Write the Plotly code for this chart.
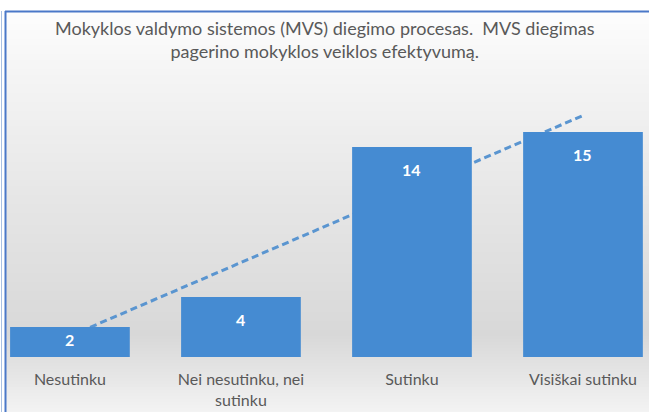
import numpy as np
import plotly.graph_objects as go

# Survey answers and counts
categories = ["Nesutinku", "Nei nesutinku, nei<br>sutinku", "Sutinku", "Visiškai sutinku"]
counts = [2, 4, 14, 15]
title_lines = ["Mokyklos valdymo sistemos (MVS) diegimo procesas.  MVS diegimas",
               "pagerino mokyklos veiklos efektyvumą."]

W, H = 649, 412
FONT = "Lato"
GREY = "#595959"
BAR = "#458bd2"
LINE = "#5a95d0"

# Linear trend through the counts (x = 1..n)
xs = np.arange(1, len(counts) + 1)
slope, intercept = np.polyfit(xs, counts, 1)
trend = slope * xs + intercept

# Axis geometry
x_range = [-0.409, 3.386]
plot_bottom_px = 357
px_per_unit = 15.0
y_range = [0, plot_bottom_px / px_per_unit]

fig = go.Figure()

# Trend line sits on the base axes so the bars (overlay axes) cover it
fig.add_trace(go.Scatter(
    x=categories, y=trend, mode="lines",
    line=dict(color=LINE, width=3, dash="7px,4px"),
    hoverinfo="skip", showlegend=False,
))

fig.add_trace(go.Bar(
    x=categories, y=counts, xaxis="x2", yaxis="y2",
    marker=dict(color=BAR, line=dict(width=0)),
    width=0.7, showlegend=False, hoverinfo="x+y",
))

# Value labels near the top of each bar (pulled up on short bars)
for cat, v in zip(categories, counts):
    drop_px = min(22, v * px_per_unit * 0.4)
    fig.add_annotation(
        x=cat, y=v - drop_px / px_per_unit, xref="x2", yref="y2",
        text=f"<b>{v}</b>", showarrow=False, yanchor="middle",
        font=dict(family=FONT, size=16, color="white"),
    )

# Two-line chart title
fig.add_annotation(
    x=325 / W, y=1, xref="paper", yref="paper", yanchor="top",
    text="<br>".join(title_lines), showarrow=False,
    font=dict(family=FONT, size=18, color=GREY),
    yshift=-15,
)


def to_paper_y(py):
    return (plot_bottom_px - py) / plot_bottom_px


def to_paper_x(px):
    return px / W


# Soft vertical background gradient inside the frame
stops_px = [12, 80, 200, 335, 362, 412]
stops_v = [253, 244, 230, 216, 225, 243]
shapes = []
step = 3
for top in range(12, H, step):
    mid = top + step / 2
    v = int(round(np.interp(mid, stops_px, stops_v)))
    shapes.append(dict(
        type="rect", xref="paper", yref="paper", layer="below",
        x0=to_paper_x(6), x1=to_paper_x(W + 2),
        y0=to_paper_y(min(top + step, H + 2)), y1=to_paper_y(top),
        fillcolor=f"rgb({v},{v},{v})", line=dict(width=0),
    ))

# Frame lines
shapes.append(dict(type="line", xref="paper", yref="paper", layer="above",
                   x0=to_paper_x(5.5), x1=to_paper_x(5.5),
                   y0=to_paper_y(11), y1=to_paper_y(H + 5),
                   line=dict(color="#4a78c8", width=2)))
shapes.append(dict(type="line", xref="paper", yref="paper", layer="above",
                   x0=to_paper_x(5), x1=to_paper_x(W + 5),
                   y0=to_paper_y(11.5), y1=to_paper_y(11.5),
                   line=dict(color="#4a78c8", width=2)))
shapes.append(dict(type="line", xref="paper", yref="paper", layer="above",
                   x0=to_paper_x(1.5), x1=to_paper_x(1.5),
                   y0=to_paper_y(11), y1=to_paper_y(H + 5),
                   line=dict(color="#a9c1e3", width=1)))

axis_common = dict(showgrid=False, zeroline=False, showline=False, fixedrange=True)

fig.update_layout(
    width=W, height=H,
    margin=dict(l=0, r=0, t=0, b=H - plot_bottom_px, pad=0),
    paper_bgcolor="white", plot_bgcolor="rgba(0,0,0,0)",
    shapes=shapes,
    bargap=0.3,
    xaxis=dict(range=x_range, type="category", categoryorder="array",
               categoryarray=categories, showticklabels=True, ticks="",
               tickfont=dict(family=FONT, size=16, color=GREY),
               ticklabelstandoff=11, **axis_common),
    yaxis=dict(range=y_range, showticklabels=False, **axis_common),
    xaxis2=dict(range=x_range, type="category", categoryorder="array",
                categoryarray=categories, overlaying="x", showticklabels=False,
                **axis_common),
    yaxis2=dict(range=y_range, overlaying="y", showticklabels=False, **axis_common),
)

fig.write_html("out.html")
